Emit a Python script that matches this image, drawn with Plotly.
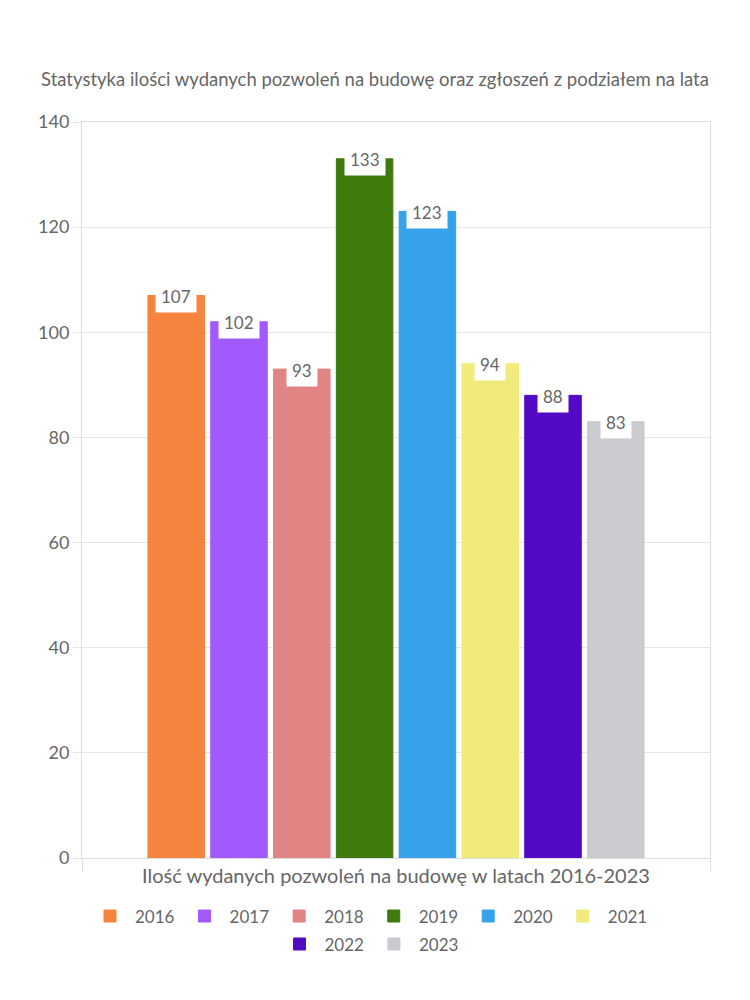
import plotly.graph_objects as go

title = "Statystyka ilości wydanych pozwoleń na budowę oraz zgłoszeń z podziałem na lata"
category = "Ilość wydanych pozwoleń na budowę w latach 2016-2023"
years = ["2016", "2017", "2018", "2019", "2020", "2021", "2022", "2023"]
values = [107, 102, 93, 133, 123, 94, 88, 83]
colors = ["#F5843F", "#A25AFF", "#E08484", "#3E7B0C", "#36A2EB", "#F0EB7B", "#520AC4", "#C9CBCF"]
yticks = [0, 20, 40, 60, 80, 100, 120, 140]

FONT = "Lato"
TXT = "#666666"
bargap = 0.2
bargroupgap = 0.1

fig = go.Figure()
for i, (yr, v, c) in enumerate(zip(years, values, colors)):
    fig.add_trace(go.Bar(
        x=[category], y=[v], name=yr,
        marker=dict(color=c, line=dict(color=c, width=1)),
        hoverinfo="skip",
        legend="legend" if i < 6 else "legend2",
    ))

n = len(years)
slot = (1 - bargap) / n
for i, v in enumerate(values):
    xoff = -(1 - bargap) / 2 + slot * (i + 0.5)
    fig.add_annotation(
        x=xoff, y=v, xref="x", yref="y",
        text=str(v), showarrow=False,
        font=dict(family=FONT, size=17, color=TXT),
        bgcolor="white", borderpad=5, yanchor="middle", yshift=-1,
    )

leg_common = dict(orientation="h", x=0.457, xanchor="center", yanchor="top",
                  font=dict(family=FONT, size=17, color=TXT), itemwidth=40,
                  tracegroupgap=0, bgcolor="rgba(0,0,0,0)")

fig.update_layout(
    width=750, height=1000,
    margin=dict(l=82, r=40, t=122, b=142),
    paper_bgcolor="white", plot_bgcolor="white",
    barmode="group", bargap=bargap, bargroupgap=bargroupgap,
    title=dict(text=title, x=0.5, xanchor="center", y=1 - 80 / 1000, yanchor="middle",
               font=dict(family=FONT, size=18.5, color=TXT)),
    font=dict(family=FONT, size=16, color=TXT),
    showlegend=True,
    legend=dict(y=-0.055, **leg_common),
    legend2=dict(y=-0.093, **leg_common),
)
fig.update_xaxes(
    type="category", showgrid=True, gridcolor="#e5e5e5", tickson="boundaries",
    showline=True, linecolor="#dddddd", mirror=True,
    ticks="outside", ticklen=12, tickcolor="#dddddd",
    tickfont=dict(family=FONT, size=20, color=TXT),
    range=[-0.5, 0.5],
)
fig.update_yaxes(
    range=[0, 140], tickvals=yticks, showgrid=True, gridcolor="#e5e5e5",
    showline=True, linecolor="#dddddd", mirror=True,
    ticks="outside", ticklen=8, tickcolor="#e5e5e5",
    tickfont=dict(family=FONT, size=18, color=TXT), zeroline=False,
)

fig.write_html("out.html")
